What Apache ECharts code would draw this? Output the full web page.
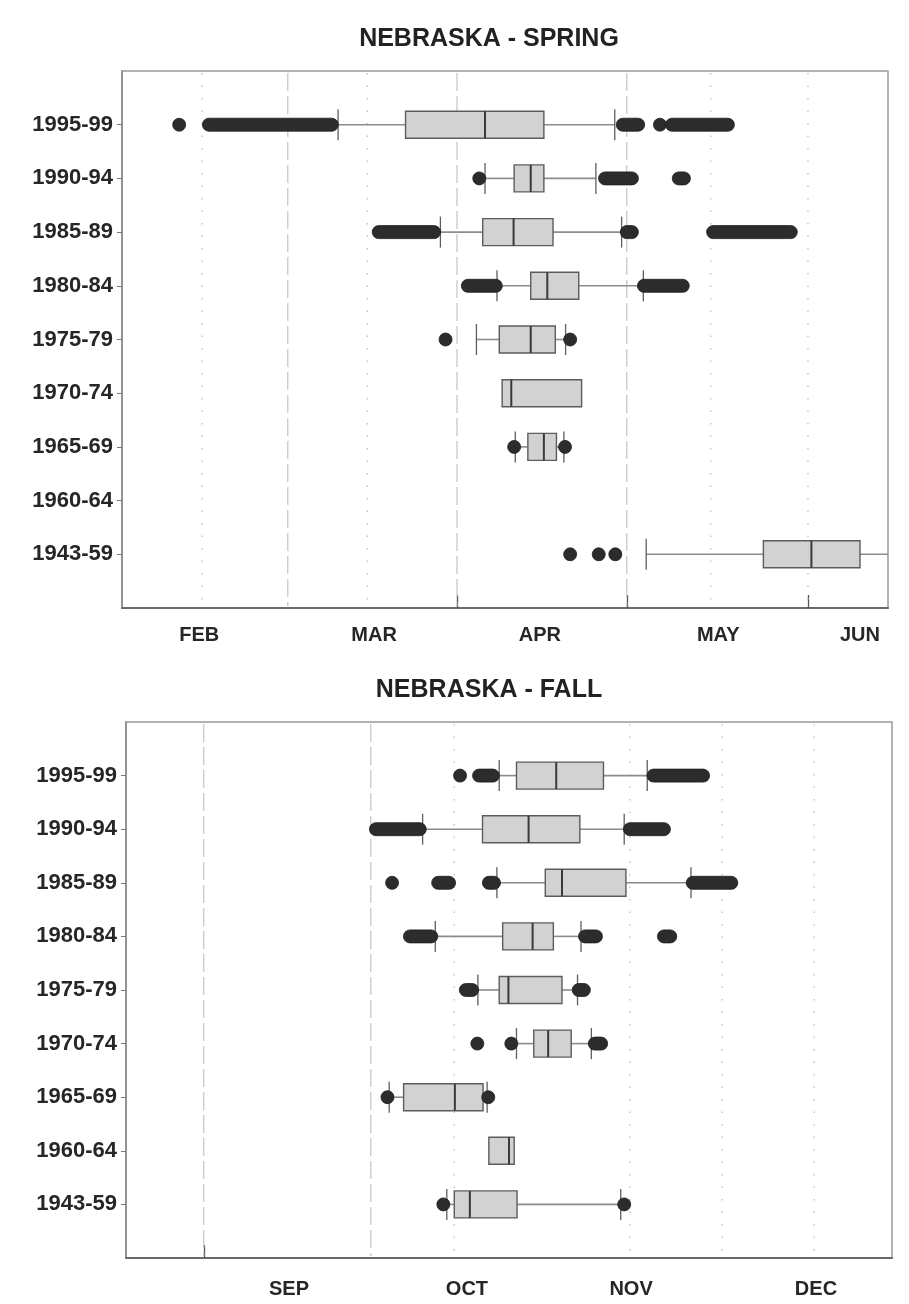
<!DOCTYPE html>
<html>
<head>
<meta charset="utf-8">
<script src="https://cdn.jsdelivr.net/npm/echarts@6/dist/echarts.min.js"></script>
<style>
  html, body { margin: 0; padding: 0; background: #ffffff; }
  #chart { width: 909px; height: 1304px; }
</style>
</head>
<body>
<div id="chart"></div>
<script>
// Five-year periods, top row first
const periods = ['1995-99', '1990-94', '1985-89', '1980-84', '1975-79', '1970-74', '1965-69', '1960-64', '1943-59'];

// Spring: day of year, [whiskerLow, q1, median, q3, whiskerHigh]; null = no data for that period
const springBoxes = [
  [69.8, 81.6, 95.5, 105.8, 118.2],
  [95.5, 100.6, 103.5, 105.8, 114.9],
  [87.7, 95.1, 100.5, 107.4, 119.4],
  [97.6, 103.5, 106.4, 111.9, 123.2],
  [94.0, 98.0, 103.5, 107.8, 109.6],
  [null, 98.5, 100.1, 112.4, null],
  [100.8, 103.0, 105.8, 108.0, 109.3],
  null,
  [123.7, 144.2, 152.6, 161.1, 172.0]
];

// Spring outliers as runs of observations: [periodIndex, firstDay, lastDay]
const springOutliers = [
  [0, 42.0, 42.0], [0, 47.2, 68.7], [0, 119.6, 122.3], [0, 126.1, 126.1], [0, 128.2, 138.0],
  [1, 94.5, 94.5], [1, 116.5, 121.2], [1, 129.4, 130.3],
  [2, 76.9, 86.6], [2, 120.3, 121.2], [2, 135.4, 149.0],
  [3, 92.5, 97.4], [3, 123.3, 130.1],
  [4, 88.6, 88.6], [4, 110.4, 110.4],
  [6, 100.6, 100.6], [6, 109.5, 109.5],
  [8, 110.4, 110.4], [8, 115.4, 115.4], [8, 118.3, 118.3]
];

// Fall: day of year, [whiskerLow, q1, median, q3, whiskerHigh]
const fallBoxes = [
  [295.8, 298.8, 305.7, 313.9, 321.5],
  [282.5, 292.9, 300.9, 309.8, 317.5],
  [295.4, 303.8, 306.7, 317.8, 329.1],
  [284.7, 296.4, 301.6, 305.2, 310.0],
  [292.1, 295.8, 297.4, 306.7, 309.4],
  [298.8, 301.8, 304.3, 308.3, 311.8],
  [276.7, 279.2, 288.1, 293.0, 293.7],
  [null, 294.0, 297.5, 298.4, null],
  [286.7, 288.0, 290.7, 298.9, 316.9]
];

const fallOutliers = [
  [0, 289.0, 289.0], [0, 292.3, 294.7], [0, 322.6, 331.2],
  [1, 274.4, 282.0], [1, 318.5, 324.4],
  [2, 277.2, 277.2], [2, 285.2, 287.1], [2, 294.0, 294.9], [2, 329.4, 336.1],
  [3, 280.3, 284.0], [3, 310.7, 312.6], [3, 324.4, 325.5],
  [4, 290.0, 291.1], [4, 309.6, 310.5],
  [5, 292.0, 292.0], [5, 297.9, 297.9], [5, 312.4, 313.5],
  [6, 276.4, 276.4], [6, 293.9, 293.9],
  [8, 286.1, 286.1], [8, 317.5, 317.5]
];

// Time axes (day of year)
const springRange = [32, 166];
const springMonthNames = ['FEB', 'MAR', 'APR', 'MAY', 'JUN'];
const springMonthLabelDays = [45.5, 76.1, 105.1, 136.3, 161.1];
const springTickDays = [90.6, 120.3, 152];
const springDashedDays = [61, 90.6, 120.3];
const springDottedDays = [46, 74.9, 135, 152];

const fallRange = [231, 364];
const fallMonthNames = ['SEP', 'OCT', 'NOV', 'DEC'];
const fallMonthLabelDays = [259.3, 290.2, 318.7, 350.8];
const fallTickDays = [244.5];
const fallDashedDays = [244.5, 273.5];
const fallDottedDays = [288, 318.5, 334.5, 350.5];

const FONT = "'Liberation Sans', Arial, Helvetica, sans-serif";
const rowSlots = [1, 2, 3, 4, 5, 6, 7, 8, 9];
const BOX_H = 27;
const CAP_H = 31;
const DOT_R = 6.5;

function boxData(boxes) {
  const out = [];
  boxes.forEach((b, i) => {
    if (b) out.push([i + 1, b[0] == null ? '-' : b[0], b[1], b[2], b[3], b[4] == null ? '-' : b[4]]);
  });
  return out;
}

function renderBox(params, api) {
  const row = api.value(0);
  const wl = api.value(1), q1 = api.value(2), med = api.value(3), q3 = api.value(4), wh = api.value(5);
  const pQ1 = api.coord([q1, row]);
  const pQ3 = api.coord([q3, row]);
  const pMed = api.coord([med, row]);
  const yc = pQ1[1];
  const children = [];
  const whiskerStyle = { stroke: '#8c8c8c', lineWidth: 1.6 };
  const capStyle = { stroke: '#5e5e5e', lineWidth: 1.3 };
  if (!isNaN(wl)) {
    const p = api.coord([wl, row]);
    children.push({ type: 'line', shape: { x1: p[0], y1: yc, x2: pQ1[0], y2: yc }, style: whiskerStyle });
    children.push({ type: 'line', shape: { x1: p[0], y1: yc - CAP_H / 2, x2: p[0], y2: yc + CAP_H / 2 }, style: capStyle });
  }
  if (!isNaN(wh)) {
    const p = api.coord([wh, row]);
    children.push({ type: 'line', shape: { x1: pQ3[0], y1: yc, x2: p[0], y2: yc }, style: whiskerStyle });
    children.push({ type: 'line', shape: { x1: p[0], y1: yc - CAP_H / 2, x2: p[0], y2: yc + CAP_H / 2 }, style: capStyle });
  }
  children.push({
    type: 'rect',
    shape: { x: pQ1[0], y: yc - BOX_H / 2, width: pQ3[0] - pQ1[0], height: BOX_H },
    style: { fill: '#d2d2d2', stroke: '#5c5c5c', lineWidth: 1.4 }
  });
  children.push({
    type: 'line',
    shape: { x1: pMed[0], y1: yc - BOX_H / 2, x2: pMed[0], y2: yc + BOX_H / 2 },
    style: { stroke: '#3a3a3a', lineWidth: 2 }
  });
  return { type: 'group', children };
}

function renderOutliers(params, api) {
  const row = api.value(0) + 1;
  const a = api.coord([api.value(1), row]);
  const b = api.coord([api.value(2), row]);
  return {
    type: 'rect',
    shape: { x: a[0] - DOT_R, y: a[1] - DOT_R, width: b[0] - a[0] + 2 * DOT_R, height: 2 * DOT_R, r: DOT_R },
    style: { fill: '#2c2c2c', stroke: '#1e1e1e', lineWidth: 0.8 }
  };
}

function gridLineRenderer(dash, color, width) {
  return function (params, api) {
    const v = api.value(0);
    const top = api.coord([v, 0]);
    const bottom = api.coord([v, 10]);
    return {
      type: 'line',
      shape: { x1: top[0], y1: top[1] + 2, x2: bottom[0], y2: bottom[1] - 2 },
      style: { stroke: color, lineWidth: width, lineDash: dash }
    };
  };
}

function labelFor(names, days) {
  return function (v) {
    for (let i = 0; i < days.length; i++) {
      if (Math.abs(days[i] - v) < 0.01) return names[i];
    }
    return '';
  };
}

function xAxisFor(gridIndex, range, names, labelDays, tickDays, margin) {
  return {
    type: 'value', gridIndex, min: range[0], max: range[1], position: 'bottom',
    axisLine: { show: true, onZero: false, lineStyle: { color: '#6a6a6a', width: 2 } },
    axisTick: { show: true, inside: true, length: 13, customValues: tickDays, lineStyle: { color: '#555', width: 1.3 } },
    axisLabel: {
      show: true, customValues: labelDays, formatter: labelFor(names, labelDays),
      fontFamily: FONT, fontSize: 20, fontWeight: 'bold', color: '#262626', margin
    },
    splitLine: { show: false }
  };
}

function yAxisFor(gridIndex) {
  return {
    type: 'value', gridIndex, min: 0, max: 10, interval: 1, inverse: true, position: 'left',
    axisLine: { show: true, onZero: false, lineStyle: { color: '#8a8a8a', width: 1.5 } },
    axisTick: { show: true, inside: false, length: 5, customValues: rowSlots, lineStyle: { color: '#777' } },
    axisLabel: {
      show: true, customValues: rowSlots,
      formatter: v => periods[Math.round(v) - 1] || '',
      fontFamily: FONT, fontSize: 22, fontWeight: 'bold', color: '#262626', margin: 9
    },
    splitLine: { show: false }
  };
}

function panelSeries(axisIndex, boxes, outliers, dashed, dotted) {
  return [
    {
      type: 'custom', xAxisIndex: axisIndex, yAxisIndex: axisIndex, z: 1, silent: true,
      renderItem: gridLineRenderer([18, 5], '#c4c4c4', 1.2),
      data: dashed.map(v => [v]), encode: { x: 0 }
    },
    {
      type: 'custom', xAxisIndex: axisIndex, yAxisIndex: axisIndex, z: 1, silent: true,
      renderItem: gridLineRenderer([1.5, 11], '#b8b8b8', 1.2),
      data: dotted.map(v => [v]), encode: { x: 0 }
    },
    {
      type: 'custom', xAxisIndex: axisIndex, yAxisIndex: axisIndex, z: 3, clip: true,
      renderItem: renderBox, data: boxData(boxes), encode: { x: [1, 2, 3, 4, 5], y: 0 }
    },
    {
      type: 'custom', xAxisIndex: axisIndex, yAxisIndex: axisIndex, z: 4, clip: true,
      renderItem: renderOutliers, data: outliers, encode: { x: [1, 2] }
    }
  ];
}

const chart = echarts.init(document.getElementById('chart'), null, { renderer: 'canvas' });

chart.setOption({
  backgroundColor: '#ffffff',
  animation: false,
  graphic: [
    { type: 'text', x: 489, y: 39, style: { text: 'NEBRASKA - SPRING', font: 'bold 25px ' + FONT, fill: '#222', textAlign: 'center', textVerticalAlign: 'middle' } },
    { type: 'text', x: 489, y: 690, style: { text: 'NEBRASKA - FALL', font: 'bold 25px ' + FONT, fill: '#222', textAlign: 'center', textVerticalAlign: 'middle' } }
  ],
  grid: [
    { left: 122, top: 71, width: 766, height: 537, show: true, borderColor: '#9a9a9a', borderWidth: 1.5, backgroundColor: 'transparent' },
    { left: 126, top: 722, width: 766, height: 536, show: true, borderColor: '#9a9a9a', borderWidth: 1.5, backgroundColor: 'transparent' }
  ],
  xAxis: [
    xAxisFor(0, springRange, springMonthNames, springMonthLabelDays, springTickDays, 17),
    xAxisFor(1, fallRange, fallMonthNames, fallMonthLabelDays, fallTickDays, 21)
  ],
  yAxis: [yAxisFor(0), yAxisFor(1)],
  series: [
    ...panelSeries(0, springBoxes, springOutliers, springDashedDays, springDottedDays),
    ...panelSeries(1, fallBoxes, fallOutliers, fallDashedDays, fallDottedDays)
  ]
});
</script>
</body>
</html>
